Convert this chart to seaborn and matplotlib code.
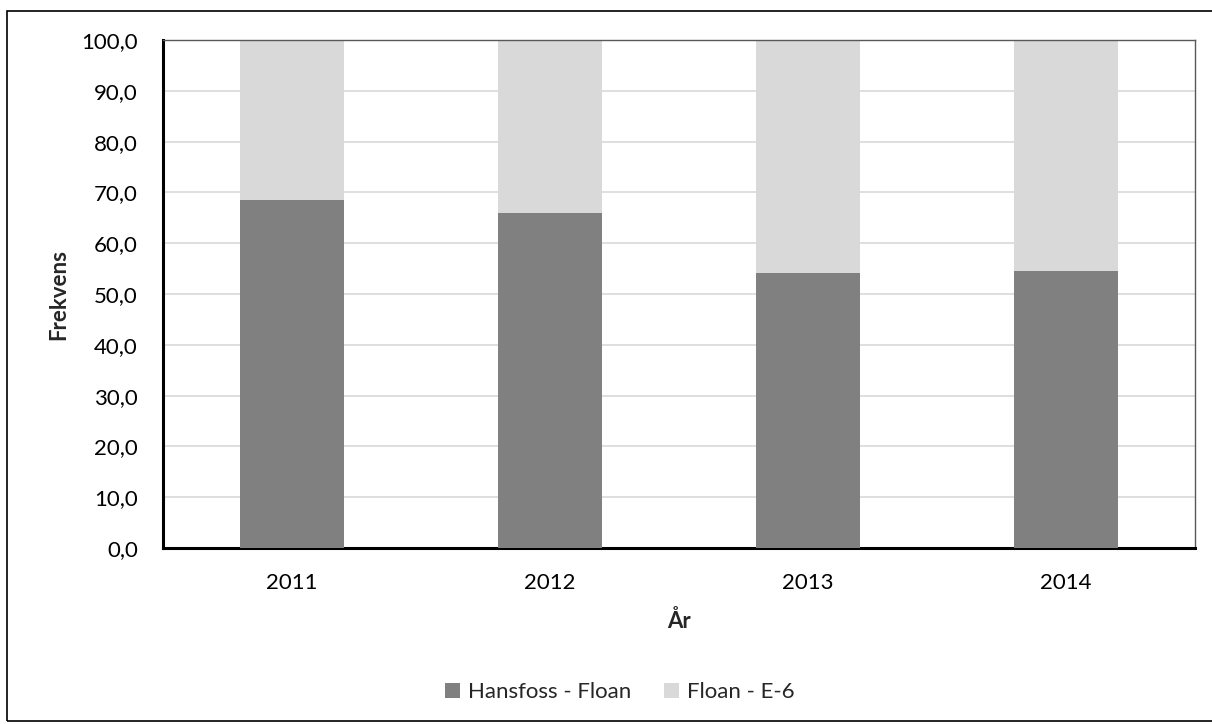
import matplotlib
matplotlib.use("Agg")
import matplotlib.pyplot as plt
from matplotlib.patches import Patch, Rectangle
from matplotlib.ticker import FuncFormatter
import pandas as pd
import seaborn as sns

# Andel (%) per år for de to strekningene
years = ["2011", "2012", "2013", "2014"]
hansfoss_floan = [68.6, 65.9, 54.2, 54.5]
floan_e6 = [31.4, 34.1, 45.8, 45.5]
series_names = ["Hansfoss - Floan", "Floan - E-6"]
y_ticks = [0, 10, 20, 30, 40, 50, 60, 70, 80, 90, 100]

dark = "#808080"
light = "#d9d9d9"
fs = 16

sns.set_theme(style="white")
plt.rcParams["font.family"] = ["Lato", "DejaVu Sans"]

df = pd.DataFrame({
    "År": years,
    "Hansfoss - Floan": hansfoss_floan,
    "Floan - E-6": floan_e6,
})
df["total"] = df["Hansfoss - Floan"] + df["Floan - E-6"]

W, H = 1212, 724
fig = plt.figure(figsize=(W / 100, H / 100), dpi=100)
ax = fig.add_axes([163 / W, 1 - 548 / H, (1195 - 163) / W, (548 - 40) / H])

# stacked bars: full stack in light grey, lower segment in dark grey on top
sns.barplot(data=df, x="År", y="total", color=light, width=0.4,
            saturation=1, ax=ax, zorder=2, linewidth=0)
sns.barplot(data=df, x="År", y="Hansfoss - Floan", color=dark, width=0.4,
            saturation=1, ax=ax, zorder=3, linewidth=0)

ax.set_ylim(0, 100)
ax.set_xlim(-0.5, len(years) - 0.5)
ax.set_yticks(y_ticks)
ax.yaxis.set_major_formatter(FuncFormatter(lambda v, p: f"{v:.1f}".replace(".", ",")))
ax.grid(axis="y", color="#d9d9d9", linewidth=1.2, zorder=0)
ax.set_axisbelow(True)

ax.tick_params(axis="both", length=0, labelsize=fs, colors="#000000")
ax.tick_params(axis="y", pad=18)
ax.tick_params(axis="x", pad=18)

ax.set_xlabel("År", fontsize=fs, fontweight="bold", labelpad=12)
ax.set_ylabel("Frekvens", fontsize=fs, fontweight="bold", labelpad=9)

for side in ["left", "bottom"]:
    ax.spines[side].set_color("#000000")
    ax.spines[side].set_linewidth(2.2)
for side in ["top", "right"]:
    ax.spines[side].set_color("#595959")
    ax.spines[side].set_linewidth(1.0)
    ax.spines[side].set_visible(True)

handles = [Patch(facecolor=dark, edgecolor="none"),
           Patch(facecolor=light, edgecolor="none")]
fig.legend(handles, series_names, loc="center", ncol=2,
           bbox_to_anchor=(620 / W, 1 - 692 / H), frameon=False,
           fontsize=fs, handlelength=0.65, handleheight=0.65,
           handletextpad=0.36, columnspacing=1.5)

# outer chart border
fig.patches.append(Rectangle((7 / W, 1 - 721 / H), 1.2, (721 - 11) / H,
                             transform=fig.transFigure, fill=False,
                             edgecolor="#000000", linewidth=1.2))

fig.savefig("out.png", dpi=100, facecolor="white")
